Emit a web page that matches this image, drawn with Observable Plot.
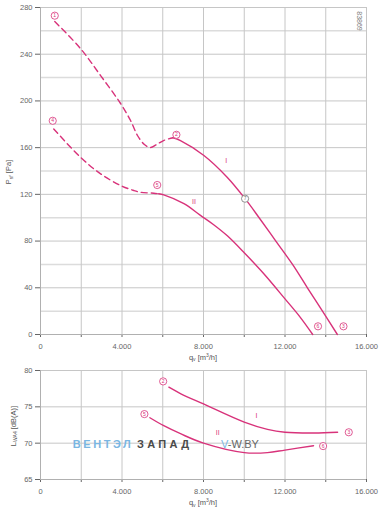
<!DOCTYPE html>
<html><head><meta charset="utf-8">
<script src="https://cdn.jsdelivr.net/npm/d3@7"></script>
<script src="https://cdn.jsdelivr.net/npm/@observablehq/plot@0.6"></script>
<style>
body{margin:0;background:#fff;}
#wrap{position:relative;width:387px;height:509px;}
#wrap svg{position:absolute;left:0;}
</style></head><body><div id="wrap"></div>
<script>
// ---- ticks / grid ----
const qTicks = [0, 4000, 8000, 12000, 16000];
const qGrid = [0, 2000, 4000, 6000, 8000, 10000, 12000, 14000, 16000];
const pTicks = [0, 40, 80, 120, 160, 200, 240, 280];
const pMinor = [20, 60, 100, 140, 180, 220, 260];
const lTicks = [65, 70, 75, 80];

// ---- pressure curves (top) ----
const q1Dash = [700, 1960, 2950, 3930, 4420, 4760, 5100, 5400, 5700, 6040, 6500];
const p1Dash = [268, 244.9, 221.7, 197.8, 183.2, 170.4, 162.7, 160.1, 162.7, 166.1, 168.5];
const q1Solid = [6500, 6870, 8020, 9160, 10040, 10730, 11550, 12370, 13100, 13840, 14570];
const p1Solid = [168.5, 166.1, 153.3, 134.7, 116.3, 100, 80, 60, 40, 20, 0];
const q2Dash = [650, 1960, 2950, 3930, 4580, 4910, 5560, 5800];
const p2Dash = [176, 151.8, 137.6, 127.6, 123.3, 121.8, 121, 120.5];
const q2Solid = [5800, 6050, 7040, 7850, 8500, 9170, 10000, 10960, 12000, 12760, 13360];
const p2Solid = [120.5, 119.5, 112, 102, 94, 84.5, 70, 52, 30.5, 14.5, 0];

// ---- point markers (top) ----
const topMarkQ = [700, 6670, 14870, 600, 5730, 13620];
const topMarkP = [273, 171, 7, 183, 128, 7];
const topMarkN = ["1", "2", "3", "4", "5", "6"];
const opQ = [10040], opP = [116.3], opN = ["7"];
const topRomanQ = [9110, 7530], topRomanP = [148.4, 113.3], romanT = ["I", "II"];

// ---- sound power curves (bottom) ----
const qL1 = [6300, 6890, 8000, 10000, 11140, 12000, 13430, 14580];
const lL1 = [77.7, 76.8, 75.4, 72.9, 71.9, 71.5, 71.4, 71.5];
const qL2 = [5370, 6050, 6870, 8000, 10000, 11140, 12000, 13400];
const lL2 = [73.5, 72.4, 71.3, 70.0, 68.7, 68.7, 69.05, 69.65];
const botMarkQ = [6020, 15130, 5100, 13870];
const botMarkL = [78.5, 71.5, 74.0, 69.6];
const botMarkN = ["2", "3", "5", "6"];
const botRomanQ = [10600, 8700], botRomanL = [73.8, 71.5];

const PINK = "#d8327a";
const FONT = "Liberation Sans, Arial, sans-serif";
const fmt = d => qTicks.includes(d) ? (d === 0 ? "0" : d3.format(",")(d).replace(/,/g, ".")) : "";
const lineOpts = {curve: "catmull-rom", stroke: PINK, strokeWidth: 1.4};

const topPlot = Plot.plot({
  width: 387, height: 362, marginLeft: 40, marginRight: 21, marginTop: 7, marginBottom: 28,
  style: {fontFamily: FONT, fontSize: "7.5px", color: "#666", background: "transparent"},
  x: {domain: [0, 16000], ticks: qGrid, tickFormat: fmt, tickSize: 3, tickPadding: 6, label: null},
  y: {domain: [0, 280], ticks: pTicks, tickSize: 5, tickPadding: 3, label: null},
  marks: [
    Plot.ruleY(pMinor, {stroke: "#dcdcdc", strokeWidth: 1.5}),
    Plot.ruleY(pTicks, {stroke: "#c6c6c6"}),
    Plot.ruleX(qGrid, {stroke: "#c6c6c6"}),
    Plot.ruleX([0], {stroke: "#b0b0b0"}),
    Plot.ruleY([0], {stroke: "#b0b0b0"}),
    Plot.line(q1Dash, {x: q1Dash, y: p1Dash, ...lineOpts, strokeDasharray: "6,4"}),
    Plot.line(q1Solid, {x: q1Solid, y: p1Solid, ...lineOpts}),
    Plot.line(q2Dash, {x: q2Dash, y: p2Dash, ...lineOpts, strokeDasharray: "6,4"}),
    Plot.line(q2Solid, {x: q2Solid, y: p2Solid, ...lineOpts}),
    Plot.dot(topMarkQ, {x: topMarkQ, y: topMarkP, r: 3.6, stroke: PINK, strokeWidth: 0.8, fill: "white"}),
    Plot.text(topMarkQ, {x: topMarkQ, y: topMarkP, text: topMarkN, fill: PINK, fontSize: 5}),
    Plot.dot(opQ, {x: opQ, y: opP, r: 3.6, stroke: "#777", strokeWidth: 0.8, fill: "white"}),
    Plot.text(opQ, {x: opQ, y: opP, text: opN, fill: "#777", fontSize: 5}),
    Plot.text(topRomanQ, {x: topRomanQ, y: topRomanP, text: romanT, fill: PINK, fontSize: 7})
  ]
});

const botPlot = Plot.plot({
  width: 387, height: 147, marginLeft: 40, marginRight: 21, marginTop: 8, marginBottom: 30,
  style: {fontFamily: FONT, fontSize: "7.5px", color: "#666", background: "transparent"},
  x: {domain: [0, 16000], ticks: qGrid, tickFormat: fmt, tickSize: 3, tickPadding: 6, label: null},
  y: {domain: [65, 80], ticks: lTicks, tickSize: 5, tickPadding: 3, label: null},
  marks: [
    Plot.ruleY(lTicks, {stroke: "#c6c6c6"}),
    Plot.ruleX(qGrid, {stroke: "#c6c6c6"}),
    Plot.ruleX([0], {stroke: "#b0b0b0"}),
    Plot.ruleY([65], {stroke: "#b0b0b0"}),
    Plot.line(qL1, {x: qL1, y: lL1, ...lineOpts}),
    Plot.line(qL2, {x: qL2, y: lL2, ...lineOpts}),
    Plot.dot(botMarkQ, {x: botMarkQ, y: botMarkL, r: 3.6, stroke: PINK, strokeWidth: 0.8, fill: "white"}),
    Plot.text(botMarkQ, {x: botMarkQ, y: botMarkL, text: botMarkN, fill: PINK, fontSize: 5}),
    Plot.text(botRomanQ, {x: botRomanQ, y: botRomanL, text: romanT, fill: PINK, fontSize: 7})
  ]
});

topPlot.style.top = "0px";
botPlot.style.top = "362px";
const wrap = document.getElementById("wrap");
wrap.appendChild(topPlot);
wrap.appendChild(botPlot);

function label(svg, x, y, rot, parts, opts = {}) {
  const t = d3.select(svg).append("text")
    .attr("transform", `translate(${x},${y}) rotate(${rot})`)
    .attr("text-anchor", opts.anchor || "middle")
    .attr("font-size", opts.size || 7.5)
    .attr("fill", opts.fill || "#555")
    .attr("font-family", FONT);
  parts.forEach(p => {
    const s = t.append("tspan").text(p.t);
    if (p.dy) s.attr("dy", p.dy);
    if (p.size) s.attr("font-size", p.size);
    if (p.fill) s.attr("fill", p.fill);
    if (p.weight) s.attr("font-weight", p.weight);
  });
  return t;
}
const qLabel = [{t: "q"}, {t: "v", size: 5, dy: 1.5}, {t: " [m", dy: -1.5}, {t: "3", size: 5, dy: -3}, {t: "/h]", dy: 3}];
label(topPlot, 203, 359.5, 0, qLabel);
label(botPlot, 203, 143, 0, qLabel);
label(topPlot, 11, 172, -90, [{t: "P"}, {t: "sf", size: 5, dy: 1.5}, {t: " [Pa]", dy: -1.5}]);
label(botPlot, 15.5, 64, -90, [{t: "L"}, {t: "WA4", size: 5, dy: 1.5}, {t: " [dB(A)]", dy: -1.5}]);
label(topPlot, 357, 21, 90, [{t: "83869"}], {size: 7, fill: "#777"});

// watermark
d3.select(botPlot).append("text").attr("x", 101.7).attr("y", 86.3)
  .attr("font-family", FONT).attr("font-size", 11).attr("font-weight", "bold")
  .attr("fill", "#7ab6e2").attr("textLength", 58).attr("lengthAdjust", "spacing").text("ВЕНТЭЛ");
d3.select(botPlot).append("text").attr("x", 163).attr("y", 86.3)
  .attr("font-family", FONT).attr("font-size", 11).attr("font-weight", "bold")
  .attr("fill", "#4a4a4a").attr("textLength", 52).attr("lengthAdjust", "spacing").text("ЗАПАД");
const vw = d3.select(botPlot).append("text").attr("x", 240).attr("y", 86.3)
  .attr("font-family", FONT).attr("font-size", 11).attr("fill", "#666");
vw.append("tspan").attr("fill", "#7ab6e2").text("V");
vw.append("tspan").text("-W.BY");
</script></body></html>
